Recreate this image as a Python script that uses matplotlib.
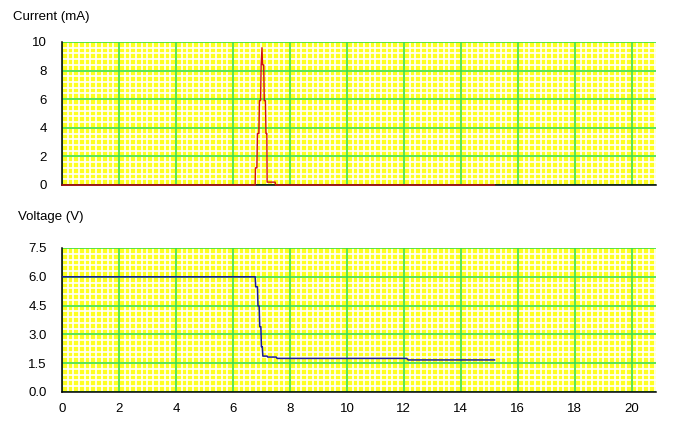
import numpy as np
import matplotlib.pyplot as plt

# Datos
t_corriente = [0, 6.78, 6.79, 6.84, 6.86, 6.91, 6.93, 6.97, 6.99, 7.02, 7.04, 7.08, 7.10, 7.14, 7.16, 7.19, 7.20, 7.48, 7.50, 15.18]
corriente = [0, 0, 1.2, 1.2, 3.6, 3.6, 5.9, 5.9, 8.4, 9.6, 8.4, 8.4, 5.9, 5.9, 3.6, 3.6, 0.2, 0.2, 0, 0]

t_voltaje = [0, 6.78, 6.80, 6.86, 6.88, 6.92, 6.94, 6.98, 7.00, 7.03, 7.05, 7.20, 7.22, 7.52, 7.55, 12.10, 12.15, 15.18]
voltaje = [6.0, 6.0, 5.48, 5.48, 4.48, 4.48, 3.40, 3.40, 2.36, 2.36, 1.87, 1.87, 1.82, 1.82, 1.75, 1.75, 1.67, 1.67]

xticks = [0, 2, 4, 6, 8, 10, 12, 14, 16, 18, 20]
yticks_i = [0, 2, 4, 6, 8, 10]
yticks_v = [0.0, 1.5, 3.0, 4.5, 6.0, 7.5]

plt.rcParams['font.family'] = ['Liberation Sans', 'DejaVu Sans']

amarillo = '#ffff20'
verde = '#3ce03c'

fig = plt.figure(figsize=(6.76, 4.28), dpi=100)
ax1 = fig.add_axes([62/676, 1 - 185/428, 594/676, 143/428])
ax2 = fig.add_axes([62/676, 1 - 392/428, 594/676, 144/428])


def preparar(ax, ymax, menor_y, yticks, etiquetas):
    ax.set_facecolor(amarillo)
    ax.set_xlim(0, 20.85)
    ax.set_ylim(0, ymax)
    # cuadricula menor blanca
    for x in np.arange(0, 20.85, 0.2):
        ax.axvline(x, color='white', lw=1.2, zorder=0.3)
    for y in np.arange(0, ymax, menor_y):
        ax.axhline(y, color='white', lw=1.2, zorder=0.3)
    ax.set_axisbelow(True)
    ax.set_xticks(xticks)
    ax.set_yticks(yticks)
    ax.set_yticklabels(etiquetas)
    ax.grid(True, which='major', color=verde, lw=1.2)
    ax.tick_params(length=0, labelsize=9.5, pad=11)
    ax.tick_params(axis='x', pad=8)
    for lado in ['top', 'right']:
        ax.spines[lado].set_visible(False)
    for lado in ['left', 'bottom']:
        ax.spines[lado].set_color('black')
        ax.spines[lado].set_linewidth(1.1)


preparar(ax1, 10, 0.4, yticks_i, [str(v) for v in yticks_i])
preparar(ax2, 7.5, 0.3, yticks_v, ['%.1f' % v for v in yticks_v])
ax1.set_xticklabels([])

ax1.plot(t_corriente, corriente, color='#d01010', lw=1.0, zorder=3, clip_on=False)
ax2.plot(t_voltaje, voltaje, color='#1a1a9a', lw=1.1, zorder=3)

fig.text(13/676, 1 - 17/428, 'Current (mA)', fontsize=9.5, va='center', ha='left')
fig.text(18/676, 1 - 217/428, 'Voltage (V)', fontsize=9.5, va='center', ha='left')

fig.savefig('out.png', dpi=100)
